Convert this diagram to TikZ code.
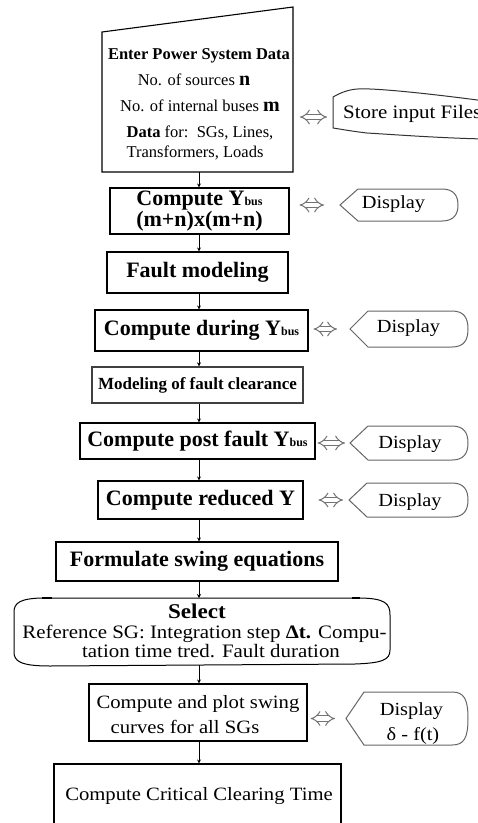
\documentclass[tikz,border=0pt]{standalone}
\usepackage{fontspec}
\setmainfont{Liberation Serif}
\newfontfamily\camb[FakeStretch=1.1]{Liberation Serif}
\usetikzlibrary{arrows.meta}
\newcommand\fs[1]{\fontsize{#1}{#1}\selectfont}
\newcommand\Ybus{Y{\fs{12}bus}}
\newcommand\dispshape[5]{%
  \draw[dispst] (#2,{(#3+#4)/2}) -- ({#2+18},#3) -- ({#5-16},#3)
    .. controls ({#5-4},#3) and (#5,{#3+7}) .. (#5,{(#3+#4)/2})
    .. controls (#5,{#4-7}) and ({#5-4},#4) .. ({#5-16},#4)
    -- ({#2+18},#4) -- cycle;
  \coordinate (#1) at (#2,{(#3+#4)/2});}
\tikzset{
  bx/.style={draw=black, line width=1.1pt, inner sep=0pt, font=\bfseries\fs{22}},
  arr/.style={line width=0.9pt, -{Stealth[length=4pt,width=4pt]}},
  dbl/.style={draw=black!55, line width=1pt, double=white, double distance=4.2pt, {Implies}-{Implies}},
  dispst/.style={draw=black!60, line width=1pt},
  dtxt/.style={font=\camb\fs{18.5}, inner sep=0pt, anchor=base},
  ttxt/.style={font=\fs{16.5}, inner sep=0pt, anchor=base},
  ctxt/.style={font=\camb\fs{19}, inner sep=0pt, anchor=base},
  shp/.style={draw=black, line width=1.1pt}
}
\begin{document}
\begin{tikzpicture}[x=1pt,y=-1pt]
\fill[white] (0,0) rectangle (478,823);
\useasboundingbox (0,0) rectangle (478,823);
\clip (0,0) rectangle (478,823);
\coordinate (ax) at (199,0);

% manual input
\draw[shp] (102,32) -- (293,7) -- (293,172) -- (102,172) -- cycle;
\coordinate (inpS) at (199,172);
\coordinate (inpE) at (293,117);
\node[ttxt, font=\bfseries\fs{16.5}] (t1) at (199,59) {Enter Power System Data};
\node[ttxt] (t2) at (194,85) {No. of sources \textbf{\fs{20}n}};
\node[ttxt] (t3) at (200,111) {No. of internal buses \textbf{\fs{20}m}};
\node[ttxt] (t4) at (200,137) {\textbf{Data} for:\ \ SGs, Lines,};
\node[ttxt] (t5) at (195,157) {Transformers, Loads};

% store input files
\draw[line width=1pt, black!80] (333,97) .. controls (345,90) and (355,88) .. (370,89)
  .. controls (395,90) and (440,95) .. (485,101) -- (485,139)
  .. controls (440,138) and (400,135) .. (367,133) .. controls (350,131) and (340,129) .. (333,128) -- cycle;
\coordinate (store) at (333,117);
\node[ctxt, anchor=base west] (storet) at (343,118) {Store input Files};

% main boxes
\node[bx, minimum width=179pt, minimum height=46pt, align=center, font=\bfseries\fontsize{22}{21}\selectfont] (ybus) at (199.5,211) {Compute \Ybus\\(m+n)x(m+n)};
\node[bx, minimum width=181pt, minimum height=41pt] (fault) at (197.5,272.5) {Fault modeling};
\node[bx, minimum width=213pt, minimum height=41pt] (during) at (201.5,330.5) {Compute during \Ybus};
\node[bx, minimum width=211pt, minimum height=36pt, font=\bfseries\fs{17}, draw=black!75, line width=1.4pt] (clear) at (197.5,385) {Modeling of fault clearance};
\node[bx, minimum width=235pt, minimum height=36pt] (post) at (197.5,441) {Compute post fault \Ybus};
\node[bx, minimum width=205pt, minimum height=38pt] (reduced) at (200.5,500) {Compute reduced Y};
\node[bx, minimum width=282pt, minimum height=39pt] (formulate) at (197,561.5) {Formulate swing equations};

% select shape
\draw[line width=1pt] (45,598) -- (358,598) .. controls (386,598) and (390,604) .. (390,615)
  -- (390,650) .. controls (390,660) and (382,663) .. (355,664) -- (50,666)
  .. controls (20,666) and (14,661) .. (14,652) -- (14,612) .. controls (14,603) and (20,598) .. (45,598) -- cycle;
\draw[line width=2pt] (42,598) -- (52,598);
\draw[line width=2pt] (352,598) -- (360,598);
\coordinate (selN) at (199,598);
\coordinate (selS) at (199,665);
\node[ctxt, font=\camb\bfseries\fs{21}] (sel1) at (197,618) {Select};
\node[ctxt] (sel2) at (204.5,638) {Reference SG: Integration step \textbf{Δt.} Compu-};
\node[ctxt] (sel3) at (211,657) {tation time tred. Fault duration};

% plot box
\node[bx, minimum width=218pt, minimum height=57pt] (plot) at (198,712.5) {};
\node[ctxt, font=\camb\fs{18.8}] (pl1) at (198,708) {Compute and plot swing};
\node[ctxt, font=\camb\fs{18.8}] (pl2) at (185,733) {curves for all SGs};

% CCT box
\node[bx, minimum width=287pt, minimum height=86pt] (cct) at (197.5,807) {};
\node[ctxt, font=\camb\fs{18.8}] (cct1) at (199,800) {Compute Critical Clearing Time};

% displays
\dispshape{d1}{340}{189}{221}{458}
\node[dtxt] (d1t) at (393.5,208) {Display};
\dispshape{d2}{350}{311}{347}{468}
\node[dtxt] (d2t) at (408.5,332) {Display};
\dispshape{d3}{350}{426}{460}{468}
\node[dtxt] (d3t) at (410,448) {Display};
\dispshape{d4}{349}{483}{517}{468}
\node[dtxt] (d4t) at (410,506) {Display};
\dispshape{d5}{346}{692}{745}{468}
\node[dtxt] (d5t) at (411.5,715) {Display};
\node[dtxt] (d5u) at (413,740) {δ - f(t)};

% main connectors
\draw[arr] (inpS) -- (ybus.north -| ax);
\draw[arr] (ybus.south -| ax) -- (fault.north -| ax);
\draw[arr] (fault.south -| ax) -- (during.north -| ax);
\draw[arr] (during.south -| ax) -- (clear.north -| ax);
\draw[arr] (clear.south -| ax) -- (post.north -| ax);
\draw[arr] (post.south -| ax) -- (reduced.north -| ax);
\draw[arr] (reduced.south -| ax) -- (formulate.north -| ax);
\draw[arr] (formulate.south -| ax) -- (selN);
\draw[arr] (selS) -- (plot.north -| ax);
\draw[arr] (plot.south -| ax) -- (cct.north -| ax);

% double arrows
\draw[dbl, shorten <=7pt, shorten >=6pt] (inpE) -- (store);
\draw[dbl, shorten <=10pt, shorten >=16pt] (ybus.east |- d1) -- (d1);
\draw[dbl, shorten <=5pt, shorten >=13pt] (during.east |- d2) -- (d2);
\draw[dbl, shorten <=2pt, shorten >=5pt] (post.east |- d3) -- (d3);
\draw[dbl, shorten <=15pt, shorten >=6pt] (reduced.east |- d4) -- (d4);
\draw[dbl, shorten <=3pt, shorten >=11pt] (plot.east |- d5) -- (d5);
\end{tikzpicture}
\end{document}
